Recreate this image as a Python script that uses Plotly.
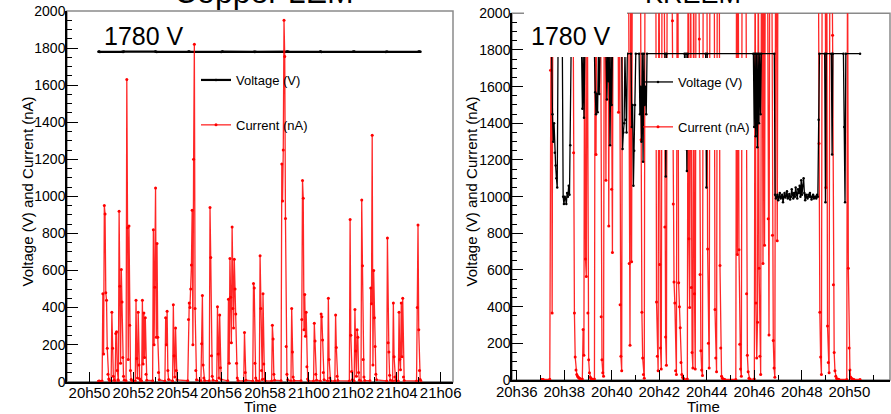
import plotly.graph_objects as go

W, H = 891, 414
FONT = "Liberation Sans, Arial, Helvetica, sans-serif"

# ---------------- data ----------------
# time axis in minutes after 20h00, acquisition every 2 s
SAMPLE_MIN = 1 / 30
OFF = 2500  # off-scale current reading (> 2000 nA)

left_tick_vals = [50, 52, 54, 56, 58, 60, 62, 64, 66]
left_tick_text = ["20h50", "20h52", "20h54", "20h56", "20h58", "21h00", "21h02", "21h04", "21h06"]
right_tick_vals = [36, 38, 40, 42, 44, 46, 48, 50]
right_tick_text = ["20h36", "20h38", "20h40", "20h42", "20h44", "20h46", "20h48", "20h50"]

# Copper LEM -- voltage (V)
left_volt_t0 = [50.41, 51.5, 53.0, 54.5, 56.0, 57.5, 59.0, 60.5, 62.0, 63.5, 64.98]
left_volt_v = [
    [1780, 1781, 1779], [1780, 1779, 1781], [1781, 1780, 1779], [1780, 1781, 1780],
    [1779, 1780, 1781], [1780, 1779, 1780], [1781, 1780, 1780], [1780, 1781, 1779],
    [1780, 1780, 1781], [1779, 1780, 1780], [1780, 1781, 1780, 1780],
]

# Copper LEM -- current (nA)
left_cur_t0 = [50.41, 50.58, 50.99, 51.17, 51.32, 51.67, 52.09, 52.38, 52.88, 53.44,
               53.79, 54.48, 55.08, 55.46, 55.80, 56.30, 57.03, 57.44, 57.74, 58.30,
               58.73, 59.18, 59.64, 60.21, 60.52, 60.85, 61.18, 61.84, 62.06, 62.37,
               62.78, 63.54, 63.81, 64.07, 64.90]
left_cur_v = [
    [3, 4, 3],
    [4, 475, 150, 950, 905, 480, 440, 180, 40, 15, 6],
    [4, 375, 180, 30, 8],
    [4, 260, 270, 60, 10],
    [5, 920, 515, 100, 605, 430, 130, 30, 8],
    [5, 1630, 830, 120, 840, 305, 60, 12, 5],
    [4, 440, 125, 20, 375, 90, 15, 5],
    [4, 440, 95, 370, 130, 345, 40, 8],
    [5, 820, 200, 510, 1045, 240, 745, 240, 50, 10],
    [4, 345, 200, 380, 60, 12],
    [4, 415, 140, 25, 290, 60, 10],
    [5, 335, 425, 400, 500, 630, 925, 200, 1200, 1820, 395, 60, 10],
    [5, 205, 465, 90, 20, 6],
    [5, 940, 670, 140, 30, 8],
    [4, 405, 150, 20, 360, 75, 12],
    [5, 445, 100, 665, 455, 210, 835, 395, 290, 660, 500, 365, 100, 20, 6],
    [4, 265, 50, 8],
    [4, 530, 505, 100, 20, 6],
    [4, 680, 395, 60, 12, 475, 95, 15, 5],
    [4, 305, 230, 40, 8],
    [5, 1175, 975, 1250, 1950, 1755, 880, 190, 40, 10],
    [4, 395, 160, 25, 6],
    [5, 335, 1085, 990, 280, 470, 245, 375, 80, 15, 5],
    [4, 315, 220, 40, 8],
    [4, 365, 350, 225, 50, 10],
    [4, 450, 120, 20, 5],
    [4, 360, 185, 30, 6],
    [4, 875, 250, 55, 10],
    [4, 390, 165, 30, 280, 240, 50, 8],
    [4, 980, 625, 120, 25, 6],
    [5, 505, 420, 1330, 90, 600, 345, 190, 40, 10],
    [4, 775, 210, 160, 35, 8],
    [4, 425, 135, 25, 6],
    [4, 375, 120, 65, 425, 135, 450, 25, 6],
    [4, 400, 845, 280, 60, 12, 4],
]

# KREEM -- voltage (V)
right_volt_t0 = [37.05, 37.47, 37.92, 38.73, 39.27, 39.76, 40.42, 40.81, 41.15, 42.24,
                 43.06, 43.95, 45.96, 46.84, 48.96, 49.24, 49.75, 50.45]
right_volt_v = [
    [1780, 1780, 1780],
    [1780, 1450, 1300, 1400, 1240, 1170, 1100, 1050, 1780],
    [1780, 1000, 960, 1000, 990, 960, 1020, 1000, 1060, 1010, 1280, 1780],
    [1780, 1480, 1780, 1430, 1780],
    [1780, 1570, 1450, 1560, 1460, 1780, 1560, 1780],
    [1780, 1530, 1780, 1630, 1780, 1280, 1780, 1500, 1780],
    [1780, 1260, 1350, 1400, 1780, 1420, 1350, 1780],
    [1780, 1380, 1500, 1060, 1250, 1500, 1780],
    [1780, 1450, 1600, 1300, 1780, 1190, 1780, 1500, 1600, 1450, 1780],
    [1780, 1110, 1780],
    [1780, 1260, 1780, 1140, 1780],
    [1780, 1050, 1780],
    [1780, 1380, 1780, 1330, 1780, 1270, 1780, 1400, 1780, 1450, 1780],
    [1780, 1010, 990, 1000, 1010, 980, 1000, 1020, 990, 1000,
     1010, 970, 1000, 1020, 995, 1005, 1030, 990, 1000, 1015,
     985, 1000, 1040, 1010, 990, 1020, 1000, 1050, 1010, 990,
     1040, 1020, 1060, 1000, 1090, 1010, 1060, 1100, 1020, 980,
     1010, 1000, 990, 1010, 1000, 1020, 1000, 985, 1000, 1010,
     990, 1000, 1000, 990, 1010, 1000, 1420, 1780],
    [1780, 970, 1780],
    [1780, 1230, 1780],
    [1780, 1380, 970, 1780],
    [1780],
]

# KREEM -- current (nA)
right_cur_t0 = [37.05, 37.39, 38.36, 38.76, 39.27, 39.52, 39.72, 39.84, 39.96, 40.25,
                40.70, 41.20, 41.85, 42.20, 42.52, 42.78, 43.18, 43.65, 44.00, 44.31,
                44.52, 45.22, 45.64, 46.00, 46.33, 46.55, 46.73, 46.93, 48.69, 48.98,
                49.26, 49.89, 50.45]
right_cur_v = [
    [3, 2, 3],
    [4, 1690, OFF, 365, OFF],
    [OFF, 1240, 365, 125, 55, 30, 20, 15, 10, 8],
    [6, 275, 135, OFF, 660, 565, OFF, 365, 110, 40, 15, 8, 5],
    [5, OFF, 1230, OFF],
    [OFF, 345, 110, 40, 20, OFF],
    [OFF, 1090, OFF],
    [OFF, 840, OFF],
    [OFF, 1040, 695, OFF],
    [OFF, 1460, OFF, 410, 130, 50, OFF],
    [OFF, 635, 190, OFF, 645, OFF],
    [OFF, 1310, 370, 120, 30, 10, OFF],
    [OFF, 425, 130, 50, OFF, 630, 175, 60, OFF],
    [OFF, 835, 235, 80, OFF],
    [OFF, 1960, 960, 535, 420, 50, 30, OFF],
    [OFF, 530, 400, 285, 95, 30, 15, 8, 5],
    [5, OFF, 770, 395, OFF, 505, 150, 65, OFF, 470, 60, OFF],
    [OFF, 1860, 575, 160, 55, 25, OFF],
    [OFF, 715, 200, 65, OFF],
    [OFF, 385, 120, 45, OFF],
    [OFF, 625, 175, 20, 10, 6, 4, 3],
    [3, OFF, 685, OFF, 710, 195, 60, 20, OFF],
    [OFF, 470, 135, 45, 10, 5],
    [5, OFF, 420, 120, 315, OFF, 610, 130, 30, OFF],
    [OFF, 635, OFF, 735, OFF],
    [OFF, 880, 245, OFF],
    [OFF, 790, 215, 65, 15, OFF],
    [OFF, 760, OFF],
    [OFF, 1290, 370, 125, 30, OFF],
    [OFF, 1050, OFF, 295, 95, 40, OFF],
    [OFF, 1880, 520, 150, 50, 20, 8, 5, 4, 3],
    [3, OFF, 610, 175, 55, 15, 8, 5, 4, 3],
    [3],
]


def expand(t0s, segs):
    xs, ys = [], []
    for t0, seg in zip(t0s, segs):
        for i, v in enumerate(seg):
            xs.append(t0 + i * SAMPLE_MIN)
            ys.append(v)
    return xs, ys


def px(x):
    return x / W


def py(y):
    return 1 - y / H


# ---------------- figure ----------------
fig = go.Figure()

RED = "rgba(255,0,0,0.85)"

lvx, lvy = expand(left_volt_t0, left_volt_v)
lcx, lcy = expand(left_cur_t0, left_cur_v)
rvx, rvy = expand(right_volt_t0, right_volt_v)
rcx, rcy = expand(right_cur_t0, right_cur_v)

fig.add_trace(go.Scatter(x=lvx, y=lvy, mode="lines+markers", name="Voltage (V)",
                         line=dict(color="black", width=2.2),
                         marker=dict(color="black", size=2.5),
                         xaxis="x", yaxis="y", legend="legend", legendgroup="v1", legendrank=1))
fig.add_trace(go.Scatter(x=lcx, y=lcy, mode="lines+markers", name="Current (nA)",
                         line=dict(color=RED, width=1.3),
                         marker=dict(color="red", size=3),
                         xaxis="x", yaxis="y", legend="legend", legendgroup="c1", legendrank=2))
fig.add_trace(go.Scatter(x=rcx, y=rcy, mode="lines+markers", name="Current (nA)",
                         line=dict(color=RED, width=1.3),
                         marker=dict(color="red", size=3),
                         xaxis="x2", yaxis="y2", legend="legend2", legendgroup="c2", legendrank=2))
fig.add_trace(go.Scatter(x=rvx, y=rvy, mode="lines+markers", name="Voltage (V)",
                         line=dict(color="black", width=1.3),
                         marker=dict(color="black", size=2.5),
                         xaxis="x2", yaxis="y2", legend="legend2", legendgroup="v2", legendrank=1))

L_FRAME = (67, 453, 11, 381.7)
R_FRAME = (512, 890, 13.3, 380)

common_x = dict(showgrid=False, zeroline=False, showline=True, linecolor="black", linewidth=1.5,
                ticks="inside", ticklen=10, tickcolor="black", tickwidth=1, tickangle=0,
                tickfont=dict(family=FONT, size=15, color="black"), tickmode="array",
                automargin=False, ticklabelstandoff=-3,
                minor=dict(ticks="inside", ticklen=5, dtick=1, tick0=0, tickcolor="black", showgrid=False))
common_y = dict(showgrid=False, zeroline=False, showline=True, linecolor="black", linewidth=1.5,
                ticks="inside", ticklen=11, tickcolor="black", tickwidth=1, range=[0, 2000],
                dtick=200, tick0=0, tickfont=dict(family=FONT, size=14, color="black"),
                automargin=False, ticklabelstandoff=-3,
                minor=dict(ticks="inside", ticklen=5, dtick=50, tickcolor="black", showgrid=False))

fig.update_layout(
    width=W, height=H, margin=dict(l=0, r=0, t=0, b=0, pad=0, autoexpand=False),
    paper_bgcolor="white", plot_bgcolor="white",
    font=dict(family=FONT, color="black"),
    hovermode=False,
    xaxis=dict(common_x, domain=[px(L_FRAME[0]), px(L_FRAME[1])], range=[48.98, 66.56],
               tickvals=left_tick_vals, ticktext=left_tick_text, anchor="y"),
    yaxis=dict(common_y, domain=[py(L_FRAME[3]), py(L_FRAME[2])], anchor="x"),
    xaxis2=dict(common_x, domain=[px(R_FRAME[0]), px(R_FRAME[1])], range=[35.80, 51.71],
                tickvals=right_tick_vals, ticktext=right_tick_text, anchor="y2"),
    yaxis2=dict(common_y, domain=[py(R_FRAME[3]), py(R_FRAME[2])], anchor="x2"),
    legend=dict(x=px(196), y=py(65), xanchor="left", yanchor="top", bgcolor="rgba(0,0,0,0)",
                font=dict(family=FONT, size=13, color="black"), tracegroupgap=25, itemwidth=30),
    legend2=dict(x=px(638), y=py(67), xanchor="left", yanchor="top", bgcolor="rgba(0,0,0,0)",
                 font=dict(family=FONT, size=13, color="black"), tracegroupgap=25, itemwidth=30),
)

shapes = []
for (x0, x1, y0, y1) in (L_FRAME, R_FRAME):
    shapes.append(dict(type="rect", xref="paper", yref="paper", x0=px(x0), x1=px(x1),
                       y0=py(y1), y1=py(y0), line=dict(color="#8a8a8a", width=1.5),
                       fillcolor="rgba(0,0,0,0)", layer="below"))
# white label box and legend box on the KREEM pad
shapes.append(dict(type="rect", xref="paper", yref="paper", x0=px(524), x1=px(627),
                   y0=py(57), y1=py(0), line=dict(width=0), fillcolor="white", layer="above"))
shapes.append(dict(type="rect", xref="paper", yref="paper", x0=px(652), x1=px(748),
                   y0=py(150), y1=py(58), line=dict(width=0), fillcolor="white", layer="above"))
fig.update_layout(shapes=shapes)

ann = []
ann.append(dict(text="Copper LEM", x=px(264), y=py(12), xref="paper", yref="paper",
                xanchor="center", yanchor="bottom", showarrow=False,
                font=dict(family=FONT, size=32, color="black")))
ann.append(dict(text="KREEM", x=px(693), y=py(10.7), xref="paper", yref="paper",
                xanchor="center", yanchor="bottom", showarrow=False,
                font=dict(family=FONT, size=27, color="black")))
for cx in (144, 571):
    ann.append(dict(text="1780 V", x=px(cx), y=py(36), xref="paper", yref="paper",
                    xanchor="center", yanchor="middle", showarrow=False,
                    font=dict(family=FONT, size=25, color="black")))
for cx in (27, 471):
    ann.append(dict(text="Voltage (V) and Current (nA)", x=px(cx), y=py(191.5), xref="paper",
                    yref="paper", xanchor="center", yanchor="middle", textangle=-90,
                    showarrow=False, font=dict(family=FONT, size=15, color="black")))
for cx in (260, 703):
    ann.append(dict(text="Time", x=px(cx), y=py(406.5), xref="paper", yref="paper",
                    xanchor="center", yanchor="middle", showarrow=False, borderpad=0,
                    font=dict(family=FONT, size=15, color="black")))
fig.update_layout(annotations=ann)

fig.write_html("out.html")
